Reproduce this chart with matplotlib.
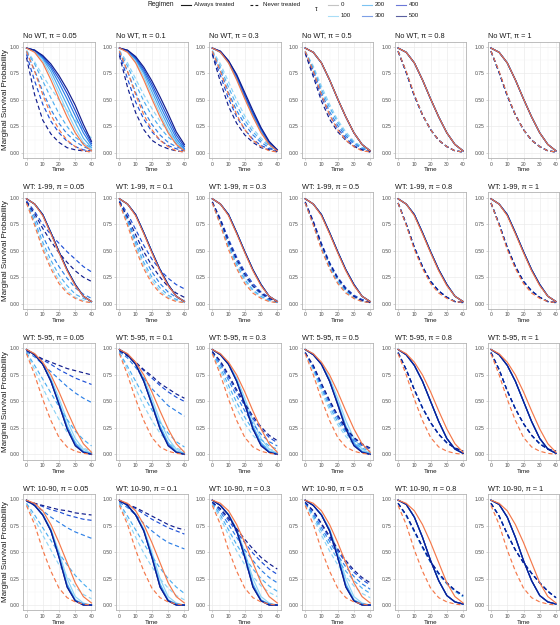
import matplotlib
matplotlib.use("Agg")
import matplotlib.pyplot as plt
from matplotlib.lines import Line2D

plt.rcParams['font.family'] = ['Liberation Sans', 'DejaVu Sans']

# ---- data -------------------------------------------------------------
time = [0, 5, 10, 15, 20, 25, 30, 35, 40]
pis = ['0.05', '0.1', '0.3', '0.5', '0.8', '1']
row_names = ['No WT', 'WT: 1-99', 'WT: 5-95', 'WT: 10-90']
taus = [0, 100, 200, 300, 400, 500]
tau_colors = ['#F4784A', '#8FD4F5', '#4DAEF0', '#2E80E6', '#1E4FD6', '#101C8C']
legend_colors = ['#C4C4C4', '#A9DDF7', '#7CC3F2', '#7D9FE6', '#6B78D8', '#5A5FA0']

# tau = 0 curves, same for every pi inside a row
orange_always = [
    [0.99, 0.95, 0.85, 0.69, 0.51, 0.34, 0.19, 0.08, 0.02],
    [0.99, 0.94, 0.83, 0.66, 0.48, 0.31, 0.17, 0.07, 0.02],
    [0.99, 0.95, 0.87, 0.75, 0.59, 0.41, 0.24, 0.10, 0.02],
    [0.99, 0.96, 0.89, 0.76, 0.59, 0.40, 0.21, 0.08, 0.02],
]
orange_never = [
    [0.96, 0.77, 0.55, 0.36, 0.22, 0.12, 0.06, 0.02, 0.01],
    [0.95, 0.74, 0.51, 0.33, 0.19, 0.10, 0.05, 0.02, 0.01],
    [0.95, 0.75, 0.52, 0.32, 0.16, 0.07, 0.03, 0.01, 0.00],
    [0.94, 0.76, 0.52, 0.32, 0.16, 0.07, 0.03, 0.01, 0.00],
]

# tau = 100..500, one block per pi
nowt_flat_always = [0.99, 0.95, 0.85, 0.69, 0.51, 0.34, 0.19, 0.08, 0.02]
nowt_flat_never = [0.96, 0.76, 0.54, 0.36, 0.22, 0.12, 0.06, 0.02, 0.01]
no_wt_always = [
    [[0.99, 0.96, 0.87, 0.73, 0.56, 0.39, 0.23, 0.10, 0.03],
     [0.99, 0.96, 0.89, 0.77, 0.61, 0.45, 0.29, 0.14, 0.05],
     [0.99, 0.97, 0.90, 0.80, 0.66, 0.51, 0.35, 0.19, 0.07],
     [0.99, 0.97, 0.91, 0.82, 0.70, 0.56, 0.40, 0.23, 0.09],
     [0.99, 0.97, 0.92, 0.84, 0.73, 0.60, 0.45, 0.27, 0.11]],
    [[0.99, 0.96, 0.86, 0.72, 0.54, 0.37, 0.21, 0.09, 0.02],
     [0.99, 0.96, 0.88, 0.75, 0.58, 0.41, 0.25, 0.11, 0.03],
     [0.99, 0.96, 0.89, 0.77, 0.62, 0.45, 0.29, 0.14, 0.04],
     [0.99, 0.97, 0.90, 0.79, 0.65, 0.49, 0.33, 0.17, 0.06],
     [0.99, 0.97, 0.91, 0.81, 0.68, 0.53, 0.37, 0.20, 0.08]],
    [[0.99, 0.95, 0.85, 0.70, 0.52, 0.35, 0.20, 0.08, 0.02],
     [0.99, 0.95, 0.86, 0.71, 0.53, 0.36, 0.21, 0.09, 0.02],
     [0.99, 0.95, 0.86, 0.72, 0.54, 0.37, 0.22, 0.09, 0.02],
     [0.99, 0.96, 0.87, 0.73, 0.55, 0.38, 0.23, 0.10, 0.03],
     [0.99, 0.96, 0.87, 0.74, 0.57, 0.40, 0.24, 0.11, 0.03]],
    [nowt_flat_always] * 5,
    [nowt_flat_always] * 5,
    [nowt_flat_always] * 5,
]
no_wt_never = [
    [[0.97, 0.86, 0.73, 0.61, 0.50, 0.40, 0.31, 0.22, 0.14],
     [0.96, 0.84, 0.68, 0.52, 0.37, 0.25, 0.15, 0.09, 0.05],
     [0.95, 0.78, 0.58, 0.41, 0.28, 0.18, 0.11, 0.06, 0.03],
     [0.93, 0.68, 0.46, 0.30, 0.19, 0.11, 0.06, 0.03, 0.02],
     [0.90, 0.55, 0.31, 0.18, 0.10, 0.05, 0.03, 0.02, 0.01]],
    [[0.97, 0.85, 0.70, 0.55, 0.42, 0.30, 0.20, 0.12, 0.07],
     [0.96, 0.82, 0.65, 0.49, 0.35, 0.24, 0.15, 0.09, 0.05],
     [0.95, 0.77, 0.57, 0.40, 0.27, 0.17, 0.10, 0.06, 0.03],
     [0.94, 0.70, 0.48, 0.32, 0.20, 0.12, 0.07, 0.04, 0.02],
     [0.92, 0.62, 0.38, 0.22, 0.12, 0.07, 0.04, 0.02, 0.01]],
    [[0.97, 0.84, 0.67, 0.50, 0.35, 0.23, 0.14, 0.08, 0.04],
     [0.96, 0.81, 0.62, 0.45, 0.31, 0.20, 0.12, 0.07, 0.03],
     [0.95, 0.78, 0.57, 0.40, 0.27, 0.17, 0.10, 0.05, 0.02],
     [0.94, 0.73, 0.51, 0.34, 0.22, 0.13, 0.07, 0.04, 0.02],
     [0.93, 0.67, 0.44, 0.28, 0.17, 0.10, 0.05, 0.03, 0.01]],
    [[0.96, 0.82, 0.63, 0.46, 0.31, 0.20, 0.11, 0.06, 0.03],
     [0.96, 0.80, 0.60, 0.43, 0.29, 0.18, 0.10, 0.05, 0.02],
     [0.95, 0.78, 0.57, 0.39, 0.26, 0.16, 0.09, 0.04, 0.02],
     [0.95, 0.75, 0.53, 0.36, 0.23, 0.14, 0.07, 0.03, 0.01],
     [0.94, 0.72, 0.49, 0.32, 0.20, 0.12, 0.06, 0.03, 0.01]],
    [nowt_flat_never] * 5,
    [nowt_flat_never] * 5,
]

wt199_flat_always = [0.99, 0.94, 0.84, 0.67, 0.49, 0.32, 0.18, 0.07, 0.02]
wt199_flat_never = [0.95, 0.75, 0.53, 0.35, 0.21, 0.12, 0.06, 0.02, 0.01]
wt_1_99_always = [[wt199_flat_always] * 5 for _ in pis]
wt_1_99_never = [
    [[0.95, 0.76, 0.54, 0.36, 0.22, 0.12, 0.06, 0.03, 0.01],
     [0.96, 0.78, 0.58, 0.41, 0.27, 0.17, 0.09, 0.05, 0.02],
     [0.96, 0.82, 0.64, 0.48, 0.35, 0.24, 0.15, 0.09, 0.05],
     [0.97, 0.87, 0.75, 0.65, 0.57, 0.49, 0.42, 0.35, 0.30],
     [0.96, 0.85, 0.71, 0.59, 0.48, 0.39, 0.31, 0.25, 0.21]],
    [[0.95, 0.76, 0.54, 0.36, 0.22, 0.12, 0.06, 0.03, 0.01],
     [0.96, 0.78, 0.57, 0.39, 0.25, 0.15, 0.08, 0.04, 0.02],
     [0.96, 0.80, 0.60, 0.44, 0.30, 0.19, 0.11, 0.06, 0.03],
     [0.97, 0.85, 0.70, 0.55, 0.42, 0.32, 0.24, 0.18, 0.14],
     [0.96, 0.82, 0.65, 0.49, 0.36, 0.25, 0.16, 0.10, 0.06]],
    [[0.95, 0.75, 0.53, 0.35, 0.21, 0.12, 0.06, 0.03, 0.01],
     [0.95, 0.76, 0.55, 0.37, 0.23, 0.13, 0.07, 0.03, 0.01],
     [0.96, 0.78, 0.57, 0.40, 0.26, 0.16, 0.09, 0.04, 0.02],
     [0.96, 0.80, 0.61, 0.44, 0.30, 0.19, 0.11, 0.06, 0.03],
     [0.96, 0.79, 0.59, 0.42, 0.28, 0.17, 0.10, 0.05, 0.02]],
    [[0.95, 0.75, 0.52, 0.34, 0.20, 0.11, 0.05, 0.02, 0.01],
     [0.95, 0.75, 0.53, 0.35, 0.21, 0.12, 0.06, 0.03, 0.01],
     [0.95, 0.76, 0.55, 0.37, 0.23, 0.13, 0.07, 0.03, 0.01],
     [0.96, 0.78, 0.57, 0.39, 0.25, 0.15, 0.08, 0.04, 0.02],
     [0.96, 0.77, 0.56, 0.38, 0.24, 0.14, 0.07, 0.03, 0.01]],
    [wt199_flat_never] * 5,
    [wt199_flat_never] * 5,
]

wt595_left = [
    [0.99, 0.95, 0.86, 0.72, 0.53, 0.32, 0.15, 0.05, 0.01],
    [0.99, 0.94, 0.85, 0.70, 0.49, 0.27, 0.11, 0.03, 0.01],
    [0.99, 0.94, 0.85, 0.69, 0.48, 0.25, 0.09, 0.02, 0.00],
    [0.99, 0.94, 0.85, 0.69, 0.47, 0.24, 0.09, 0.02, 0.00],
    [0.99, 0.94, 0.85, 0.69, 0.47, 0.24, 0.08, 0.02, 0.00],
]
wt595_late = [0.99, 0.94, 0.84, 0.69, 0.50, 0.31, 0.15, 0.05, 0.01]
wt_5_95_always = [wt595_left, wt595_left, wt595_left, wt595_left,
                  [wt595_late] * 5, [wt595_late] * 5]
wt_5_95_never = [
    [[0.96, 0.80, 0.63, 0.47, 0.33, 0.21, 0.12, 0.06, 0.03],
     [0.96, 0.84, 0.71, 0.58, 0.45, 0.33, 0.22, 0.14, 0.08],
     [0.97, 0.92, 0.85, 0.78, 0.71, 0.64, 0.58, 0.53, 0.49],
     [0.98, 0.94, 0.89, 0.85, 0.80, 0.76, 0.72, 0.69, 0.66],
     [0.98, 0.94, 0.90, 0.87, 0.84, 0.81, 0.79, 0.77, 0.75]],
    [[0.96, 0.80, 0.62, 0.46, 0.32, 0.20, 0.11, 0.06, 0.03],
     [0.96, 0.83, 0.69, 0.55, 0.42, 0.30, 0.20, 0.12, 0.07],
     [0.97, 0.91, 0.82, 0.72, 0.62, 0.54, 0.46, 0.41, 0.36],
     [0.98, 0.93, 0.86, 0.79, 0.72, 0.65, 0.59, 0.54, 0.50],
     [0.98, 0.93, 0.87, 0.80, 0.74, 0.67, 0.62, 0.57, 0.53]],
    [[0.96, 0.79, 0.60, 0.43, 0.29, 0.18, 0.10, 0.05, 0.03],
     [0.96, 0.82, 0.65, 0.49, 0.35, 0.23, 0.14, 0.08, 0.05],
     [0.96, 0.85, 0.70, 0.55, 0.41, 0.29, 0.19, 0.12, 0.08],
     [0.97, 0.87, 0.73, 0.59, 0.46, 0.34, 0.24, 0.16, 0.11],
     [0.97, 0.88, 0.75, 0.61, 0.48, 0.36, 0.26, 0.18, 0.13]],
    [[0.96, 0.79, 0.59, 0.42, 0.28, 0.17, 0.09, 0.05, 0.02],
     [0.96, 0.81, 0.62, 0.45, 0.31, 0.20, 0.11, 0.06, 0.03],
     [0.96, 0.82, 0.64, 0.48, 0.34, 0.22, 0.13, 0.08, 0.04],
     [0.96, 0.83, 0.66, 0.50, 0.36, 0.24, 0.15, 0.09, 0.05],
     [0.96, 0.84, 0.67, 0.51, 0.37, 0.25, 0.16, 0.10, 0.06]],
    [[0.96, 0.80, 0.61, 0.44, 0.30, 0.19, 0.11, 0.06, 0.03]] * 5,
    [[0.96, 0.80, 0.60, 0.43, 0.29, 0.18, 0.10, 0.05, 0.03]] * 5,
]

wt1090_left = [
    [0.99, 0.94, 0.86, 0.72, 0.50, 0.25, 0.08, 0.02, 0.00],
    [0.99, 0.94, 0.85, 0.71, 0.47, 0.20, 0.05, 0.01, 0.00],
    [0.99, 0.94, 0.85, 0.70, 0.46, 0.18, 0.04, 0.01, 0.00],
    [0.99, 0.94, 0.85, 0.70, 0.45, 0.17, 0.04, 0.00, 0.00],
    [0.99, 0.94, 0.85, 0.70, 0.45, 0.17, 0.04, 0.00, 0.00],
]
wt1090_late = [0.99, 0.95, 0.83, 0.64, 0.42, 0.23, 0.09, 0.03, 0.01]
wt_10_90_always = [wt1090_left, wt1090_left, wt1090_left, wt1090_left,
                   [wt1090_late] * 5, [wt1090_late] * 5]
wt_10_90_never = [
    [[0.95, 0.81, 0.66, 0.52, 0.38, 0.27, 0.17, 0.10, 0.06],
     [0.96, 0.85, 0.73, 0.61, 0.49, 0.38, 0.28, 0.20, 0.13],
     [0.98, 0.94, 0.89, 0.83, 0.78, 0.73, 0.69, 0.66, 0.63],
     [0.98, 0.96, 0.93, 0.90, 0.88, 0.85, 0.83, 0.81, 0.80],
     [0.98, 0.96, 0.94, 0.92, 0.90, 0.89, 0.87, 0.86, 0.85]],
    [[0.95, 0.80, 0.64, 0.49, 0.36, 0.25, 0.16, 0.09, 0.05],
     [0.96, 0.84, 0.71, 0.58, 0.46, 0.35, 0.25, 0.17, 0.11],
     [0.97, 0.92, 0.85, 0.77, 0.70, 0.64, 0.59, 0.56, 0.53],
     [0.98, 0.95, 0.91, 0.86, 0.81, 0.77, 0.73, 0.70, 0.67],
     [0.98, 0.95, 0.92, 0.88, 0.84, 0.80, 0.76, 0.73, 0.71]],
    [[0.95, 0.82, 0.66, 0.51, 0.38, 0.27, 0.18, 0.12, 0.08],
     [0.96, 0.85, 0.71, 0.57, 0.45, 0.34, 0.25, 0.18, 0.13],
     [0.97, 0.88, 0.76, 0.64, 0.52, 0.42, 0.33, 0.26, 0.21],
     [0.97, 0.90, 0.80, 0.69, 0.59, 0.49, 0.41, 0.34, 0.29],
     [0.97, 0.91, 0.82, 0.72, 0.62, 0.53, 0.45, 0.39, 0.34]],
    [[0.95, 0.82, 0.66, 0.51, 0.38, 0.27, 0.18, 0.11, 0.07],
     [0.96, 0.84, 0.70, 0.56, 0.43, 0.32, 0.23, 0.16, 0.11],
     [0.96, 0.86, 0.73, 0.60, 0.47, 0.36, 0.27, 0.20, 0.15],
     [0.97, 0.88, 0.76, 0.63, 0.51, 0.40, 0.31, 0.24, 0.19],
     [0.97, 0.89, 0.77, 0.65, 0.53, 0.42, 0.33, 0.26, 0.21]],
    [[0.96, 0.84, 0.69, 0.54, 0.40, 0.29, 0.20, 0.13, 0.08]] * 2
    + [[0.96, 0.85, 0.70, 0.55, 0.41, 0.30, 0.21, 0.14, 0.09]] * 3,
    [[0.96, 0.84, 0.67, 0.52, 0.40, 0.30, 0.21, 0.13, 0.07]] * 5,
]

always_rows = [no_wt_always, wt_1_99_always, wt_5_95_always, wt_10_90_always]
never_rows = [no_wt_never, wt_1_99_never, wt_5_95_never, wt_10_90_never]

# ---- figure -----------------------------------------------------------
W, H = 560, 625
fig = plt.figure(figsize=(W / 100, H / 100), dpi=100)

dash = (3.6, 2.4)
lw = 0.85
for r in range(4):
    for c in range(6):
        left = 23.25 + 92.9 * c
        top = 41.7 + 150.7 * r
        ax = fig.add_axes([left / W, 1 - (top + 116.6) / H, 71.5 / W, 116.6 / H])
        # blue taus first, tau = 0 on top
        for k in range(5):
            ax.plot(time, never_rows[r][c][k], color=tau_colors[k + 1], lw=lw,
                    linestyle=(0, dash))
            ax.plot(time, always_rows[r][c][k], color=tau_colors[k + 1], lw=lw)
        ax.plot(time, orange_never[r], color=tau_colors[0], lw=lw, linestyle=(0, dash))
        ax.plot(time, orange_always[r], color=tau_colors[0], lw=lw)

        ax.set_xlim(-2, 42)
        ax.set_ylim(-0.05, 1.05)
        ax.set_xticks([0, 10, 20, 30, 40])
        ax.set_xticks([5, 15, 25, 35], minor=True)
        ax.set_yticks([0, 0.25, 0.5, 0.75, 1.0])
        ax.set_yticks([0.125, 0.375, 0.625, 0.875], minor=True)
        ax.set_yticklabels(['0.00', '0.25', '0.50', '0.75', '1.00'])
        ax.grid(which='major', color='#EBEBEB', lw=0.5)
        ax.grid(which='minor', color='#F4F4F4', lw=0.3)
        ax.set_axisbelow(True)
        ax.tick_params(which='major', labelsize=3.6, length=1.5, width=0.4,
                       color='#B3B3B3', labelcolor='#4D4D4D', pad=1)
        ax.tick_params(which='minor', length=0)
        for s in ax.spines.values():
            s.set_color('#B3B3B3')
            s.set_linewidth(0.6)
        ax.set_xlabel('Time', fontsize=4.5, labelpad=0.5, color='#1A1A1A')
        ax.set_title(f'{row_names[r]}, π = {pis[c]}', loc='left', fontsize=5.3,
                     pad=3, color='#1A1A1A')
    fig.text(5.5 / W, 1 - (41.7 + 150.7 * r + 58) / H, 'Marginal Survival Probability',
             rotation=90, ha='center', va='center', fontsize=5.8, color='#1A1A1A')

# ---- legend -----------------------------------------------------------
def key(x0, x1, y, color, ls='-'):
    fig.add_artist(Line2D([x0 / W, x1 / W], [1 - y / H, 1 - y / H], color=color,
                          lw=0.8, linestyle=ls))

def label(x, y, s, size=4.4):
    fig.text(x / W, 1 - y / H, s, ha='left', va='center', fontsize=size, color='#1A1A1A')

label(148, 4.5, 'Regimen', 4.8)
key(181, 191, 4.5, '#1A1A1A')
label(194, 4.5, 'Always treated')
key(250, 260, 4.5, '#1A1A1A', (0, (2.5, 2)))
label(263, 4.5, 'Never treated')

label(315, 9.5, 'τ', 4.8)
key_x = [328, 362, 396]
for i, t in enumerate(taus):
    col, row = i // 2, i % 2
    y = 4.5 + 11 * row
    key(key_x[col], key_x[col] + 10, y, legend_colors[i])
    label(key_x[col] + 13, y, str(t))

fig.savefig('out.png', dpi=100)
